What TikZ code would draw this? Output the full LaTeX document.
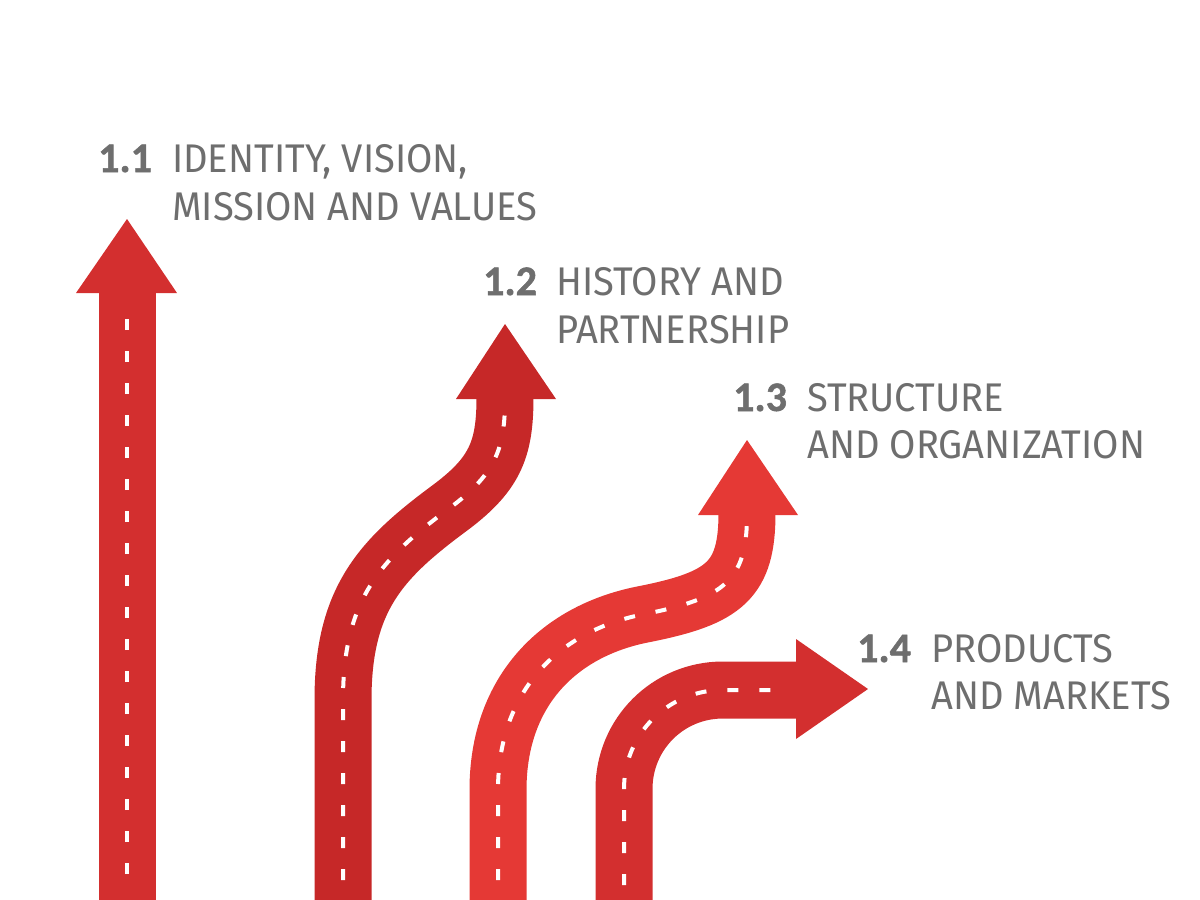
\documentclass[tikz,border=0pt]{standalone}
\usepackage{fontspec}
\setmainfont{Fira Sans}[FakeStretch=0.953]
\newfontfamily\numfont{Carlito}[BoldFeatures={FakeBold=1.2}]
\definecolor{redA}{HTML}{D32F2F}
\definecolor{redB}{HTML}{C62828}
\definecolor{redC}{HTML}{E53935}
\definecolor{txtgray}{HTML}{6E6E6E}
\begin{document}
\begin{tikzpicture}[x=1pt,y=-1pt,
  road/.style={line width=57pt},
  lane/.style={white, line width=4pt, dash pattern=on 11pt off 21pt},
  num/.style={anchor=base west, inner sep=0pt, text=txtgray, font=\numfont\fontsize{42}{48}\selectfont\bfseries},
  lbl/.style={anchor=base west, inner sep=0pt, text=txtgray, font=\fontsize{40}{48}\selectfont}]
\useasboundingbox (0,0) rectangle (1200,900);
% arrow 1.1
\draw[road,redA] (127,900) -- (127,291);
\fill[redA] (76,293) -- (177,293) -- (127,219) -- cycle;
\draw[lane] (127,874) -- (127,319);
% arrow 1.2
\draw[road,redB] (343,900) -- (343,700) .. controls (343,600) and (380,560) .. (447,510) .. controls (495,475) and (505,450) .. (505,397);
\fill[redB] (456,399) -- (556,399) -- (505,324) -- cycle;
\draw[lane] (343,880) -- (343,700) .. controls (343,600) and (380,560) .. (447,510) .. controls (495,475) and (505,450) .. (505,399);
% arrow 1.3
\draw[road,redC] (498,900) -- (498,790) .. controls (498,690) and (560,630) .. (645,614) .. controls (725,598) and (747,580) .. (747,513);
\fill[redC] (698,515) -- (798,515) -- (747,440) -- cycle;
\draw[lane] (498,880) -- (498,790) .. controls (498,690) and (560,630) .. (645,614) .. controls (725,598) and (747,580) .. (747,515);
% arrow 1.4
\draw[road,redA] (624,900) -- (624,789) .. controls (624,734) and (668,690) .. (723,690) -- (798,690);
\fill[redA] (796,639) -- (796,739) -- (868,689) -- cycle;
\draw[lane] (624,885) -- (624,789) .. controls (624,734) and (668,690) .. (723,690) -- (790,690);
% labels
\node[num] (n1) at (98,172) {1.1};
\node[lbl] (l1a) at (172,172) {IDENTITY, VISION,};
\node[lbl] (l1b) at (172,220) {MISSION AND VALUES};
\node[num] (n2) at (483,295) {1.2};
\node[lbl] (l2a) at (556,295) {HISTORY AND};
\node[lbl] (l2b) at (556,343) {PARTNERSHIP};
\node[num] (n3) at (733,411) {1.3};
\node[lbl] (l3a) at (807,411) {STRUCTURE};
\node[lbl] (l3b) at (807,458) {AND ORGANIZATION};
\node[num] (n4) at (857,662) {1.4};
\node[lbl] (l4a) at (931,662) {PRODUCTS};
\node[lbl] (l4b) at (931,709) {AND MARKETS};
\end{tikzpicture}
\end{document}
